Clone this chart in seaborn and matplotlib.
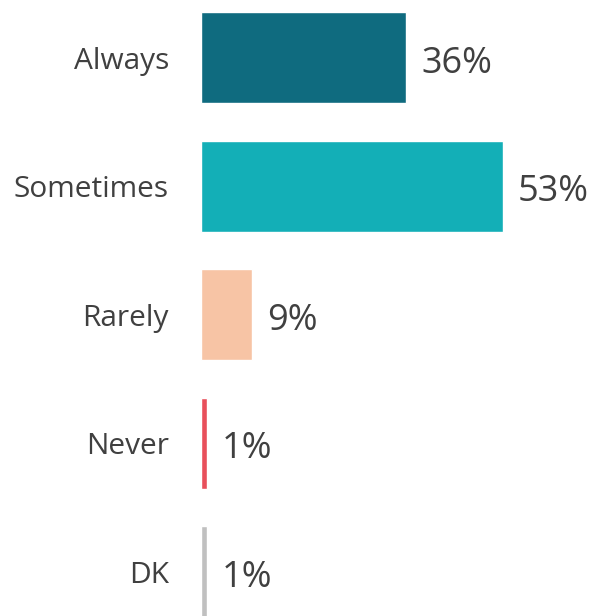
import matplotlib
matplotlib.use("Agg")
import matplotlib.pyplot as plt
import seaborn as sns
import pandas as pd

categories = ["Always", "Sometimes", "Rarely", "Never", "DK"]
values = [36, 53, 9, 1, 1]
colors = ["#0F6B7F", "#13AFB7", "#F7C4A5", "#E8505B", "#C0C0C0"]

sns.set_theme(style="white")
plt.rcParams["font.family"] = ["Open Sans", "DejaVu Sans"]

df = pd.DataFrame({"category": categories, "value": values})

fig = plt.figure(figsize=(5.95, 6.16), dpi=100)
ax = fig.add_axes([201 / 595, 0, 394 / 595, 1])

sns.barplot(data=df, x="value", y="category", hue="category",
            palette=colors, order=categories, hue_order=categories,
            width=0.708, legend=False, ax=ax, saturation=1)

ax.set_xlim(0, 394 / 5.69)
ax.set_ylim(4.346, -0.4475)
ax.set_xlabel("")
ax.set_ylabel("")
ax.set_xticks([])
for s in ax.spines.values():
    s.set_visible(False)

ax.tick_params(axis="y", length=0, pad=23, labelsize=21.5, labelcolor="#404040")

for i, v in enumerate(values):
    ax.annotate(f"{v}%", xy=(v, i), xytext=(11, -4.5), textcoords="offset points",
                ha="left", va="center", fontsize=26, color="#404040")

fig.savefig("out.png", dpi=100)
